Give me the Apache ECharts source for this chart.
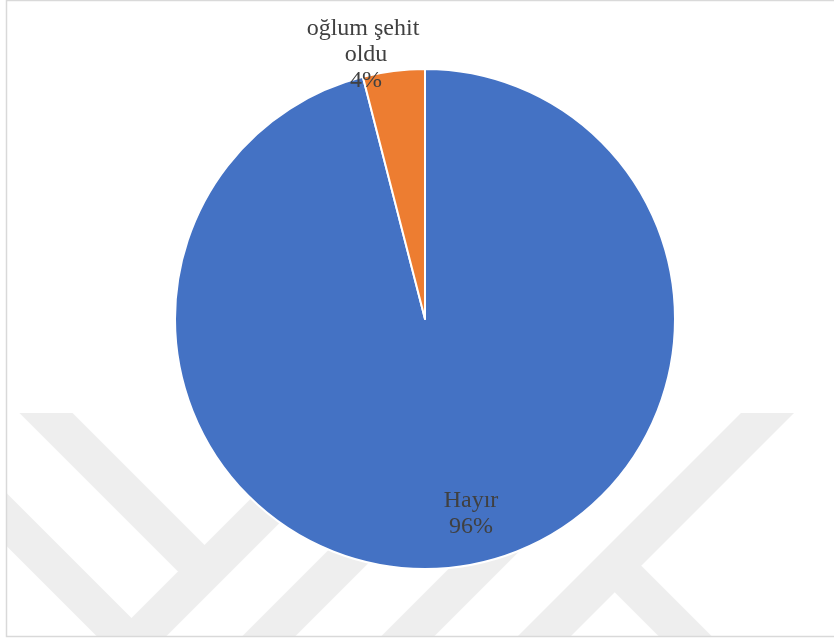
<!DOCTYPE html>
<html>
<head>
<meta charset="utf-8">
<script src="https://cdn.jsdelivr.net/npm/echarts@6/dist/echarts.min.js"></script>
<style>
  html, body { margin: 0; padding: 0; background: #fff; }
  #chart-container { width: 834px; height: 640px; }
</style>
</head>
<body>
<div id="chart-container"></div>
<script>
var categories = ["Hayır", "oğlum şehit oldu"];
var values = [96, 4];
var sliceColors = ["#4472C4", "#ED7D31"];

// where Excel put the data labels (centre of each text block)
var labelSpots = [[471, 514], [366, 55]];

// faint watermark stripes behind the chart: centre line [x1, y1, x2, y2]
var stripes = [
  [46, 413, 204.5, 571.5],
  [-100, 413, 137, 650],
  [126, 650, 363, 413],
  [255, 650, 492, 413],
  [394, 650, 631, 413],
  [767.5, 413, 530.5, 650],
  [615, 566, 699, 650]
];
var stripeHalf = 26.5;

var dom = document.getElementById("chart-container");
var myChart = echarts.init(dom, null, { renderer: "canvas" });

var graphics = stripes.map(function (s) {
  return {
    type: "polygon",
    z: 0,
    silent: true,
    shape: {
      points: [
        [s[0] - stripeHalf, s[1]],
        [s[0] + stripeHalf, s[1]],
        [s[2] + stripeHalf, s[3]],
        [s[2] - stripeHalf, s[3]]
      ]
    },
    style: { fill: "#eeeeee" }
  };
});
// white outside the frame
graphics.push({ type: "rect", z: 1, silent: true, shape: { x: 0, y: 0, width: 6, height: 640 }, style: { fill: "#fff" } });
graphics.push({ type: "rect", z: 1, silent: true, shape: { x: 0, y: 636, width: 834, height: 10 }, style: { fill: "#fff" } });
// frame
graphics.push({
  type: "rect",
  z: 1,
  silent: true,
  shape: { x: 6.5, y: 0.5, width: 900, height: 636 },
  style: { fill: null, stroke: "#d9d9d9", lineWidth: 1.5 }
});

var option = {
  backgroundColor: "#ffffff",
  animation: false,
  color: sliceColors,
  graphic: graphics,
  series: [
    {
      type: "pie",
      z: 5,
      center: [425, 319],
      radius: 250,
      startAngle: 90,
      clockwise: true,
      percentPrecision: 0,
      avoidLabelOverlap: false,
      emphasis: { disabled: true },
      itemStyle: { borderColor: "#ffffff", borderWidth: 2 },
      label: {
        show: true,
        position: "inside",
        formatter: "{b}\n{d}%",
        fontFamily: "Liberation Serif",
        fontSize: 24,
        lineHeight: 26,
        color: "#404040",
        align: "center",
        width: 150,
        overflow: "break"
      },
      labelLine: { show: false },
      labelLayout: function (params) {
        var p = labelSpots[params.dataIndex];
        return { x: p[0], y: p[1], align: "center", verticalAlign: "middle" };
      },
      data: categories.map(function (c, i) {
        return { name: c, value: values[i] };
      })
    }
  ]
};

if (option && typeof option === "object") {
  myChart.setOption(option);
}

window.addEventListener("resize", myChart.resize);
</script>
</body>
</html>
